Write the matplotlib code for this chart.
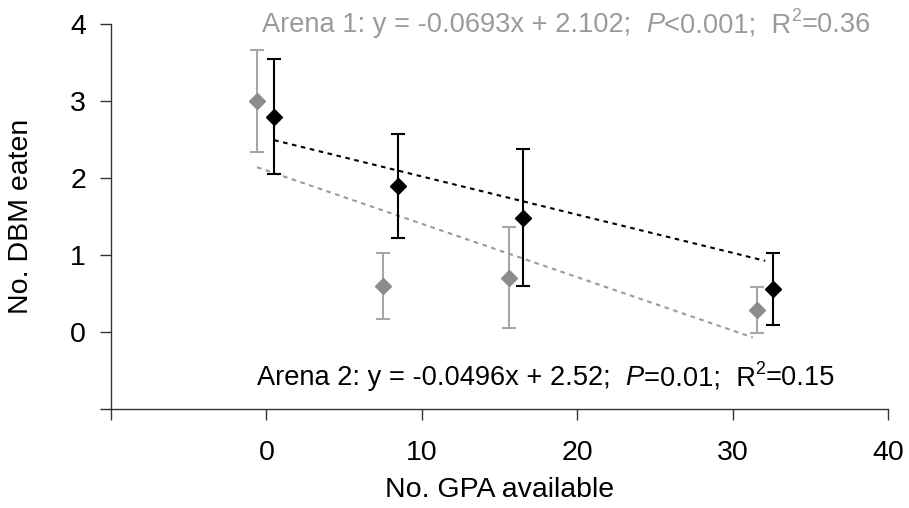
import matplotlib
matplotlib.use("Agg")
import matplotlib.pyplot as plt
from matplotlib.transforms import offset_copy
import numpy as np

plt.rcParams['font.family'] = ['Liberation Sans', 'DejaVu Sans']

# Data
arena1_x = [-0.6, 7.5, 15.6, 31.6]
arena1_y = [3.00, 0.60, 0.71, 0.29]
arena1_err = [0.66, 0.43, 0.66, 0.30]
arena2_x = [0.5, 8.5, 16.5, 32.6]
arena2_y = [2.80, 1.90, 1.49, 0.56]
arena2_err = [0.75, 0.68, 0.89, 0.47]

arena1_slope, arena1_icpt = -0.0693, 2.102
arena2_slope, arena2_icpt = -0.0496, 2.52
arena1_trend_x = [-0.6, 31.3]
arena2_trend_x = [0.5, 32.1]

x_ticks = [-10, 0, 10, 20, 30, 40]
x_ticklabels = ['', '0', '10', '20', '30', '40']
y_ticks = [-1, 0, 1, 2, 3, 4]
y_ticklabels = ['', '0', '1', '2', '3', '4']

arena1_label = [('Arena 1: y = -0.0693x + 2.102;  ', 'normal', 0), ('P', 'italic', 0),
                ('<0.001;  R', 'normal', 0), ('2', 'normal', 1), ('=0.36', 'normal', 0)]
arena2_label = [('Arena 2: y = -0.0496x + 2.52;  ', 'normal', 0), ('P', 'italic', 0),
                ('=0.01;  R', 'normal', 0), ('2', 'normal', 1), ('=0.15', 'normal', 0)]

gray_marker = '#8c8c8c'
gray_err = '#a6a6a6'
gray_line = '#999999'
gray_text = '#9a9a9a'

fig = plt.figure(figsize=(9.09, 5.08), dpi=100)
ax = fig.add_axes([0.1221, 0.1943, 0.9769 - 0.1221, 0.9522 - 0.1943])

# trend lines
tx1 = np.array(arena1_trend_x)
ax.plot(tx1, arena1_slope * tx1 + arena1_icpt, color=gray_line, lw=1.5,
        linestyle=(0, (2.2, 2.2)), zorder=1)
tx2 = np.array(arena2_trend_x)
ax.plot(tx2, arena2_slope * tx2 + arena2_icpt, color='black', lw=1.5,
        linestyle=(0, (2.2, 2.2)), zorder=1)

ax.errorbar(arena1_x, arena1_y, yerr=arena1_err, fmt='D', color=gray_marker,
            ecolor=gray_err, elinewidth=1.5, capsize=5, capthick=1.5,
            markersize=8.5, zorder=3)
ax.errorbar(arena2_x, arena2_y, yerr=arena2_err, fmt='D', color='black',
            ecolor='black', elinewidth=1.5, capsize=5, capthick=1.5,
            markersize=8.5, zorder=4)

ax.set_xlim(-10, 40)
ax.set_ylim(-1, 4)
ax.set_xticks(x_ticks)
ax.set_xticklabels(x_ticklabels)
ax.set_yticks(y_ticks)
ax.set_yticklabels(y_ticklabels)

for s in ['top', 'right']:
    ax.spines[s].set_visible(False)
for s in ['left', 'bottom']:
    ax.spines[s].set_color('#333333')
    ax.spines[s].set_linewidth(1)
ax.tick_params(axis='both', direction='out', length=8, width=1, color='#333333',
               labelsize=20.5)
ax.tick_params(axis='y', pad=10)
ax.tick_params(axis='x', pad=14)

ax.set_xlabel('No. GPA available', fontsize=20.5, labelpad=8)
ax.set_ylabel('No. DBM eaten', fontsize=20.5, labelpad=26)

renderer = fig.canvas.get_renderer()


def rich_text(x, y, parts, color, size):
    trans = ax.transData
    dx = 0.0
    for txt, style, sup in parts:
        fs = size * (0.65 if sup else 1.0)
        dy = size * 0.42 if sup else 0.0
        t = ax.text(x, y, txt, color=color, fontsize=fs, fontstyle=style,
                    va='baseline', ha='left',
                    transform=offset_copy(trans, fig=fig, x=dx, y=dy, units='points'))
        bb = t.get_window_extent(renderer=renderer)
        dx += bb.width * 72.0 / fig.dpi


rich_text(-0.3, 3.895, arena1_label, gray_text, 19.6)
rich_text(-0.63, -0.69, arena2_label, 'black', 19.6)

fig.savefig('out.png', dpi=100)
